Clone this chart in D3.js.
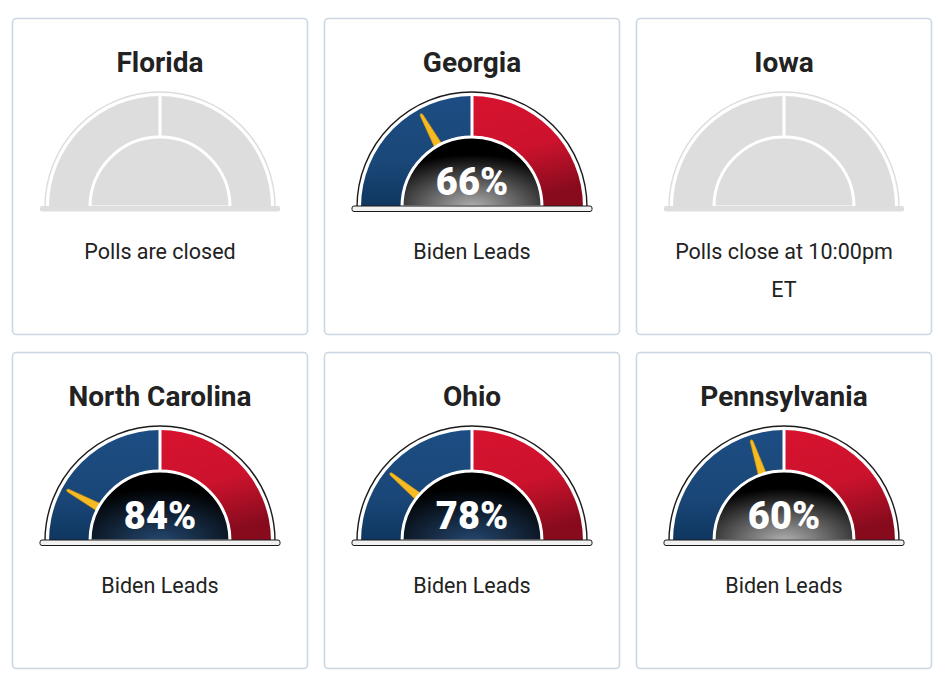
<!DOCTYPE html>
<html>
<head>
<meta charset="utf-8">
<script src="https://cdn.jsdelivr.net/npm/d3@7"></script>
<style>
  body { margin: 0; background: #fff; }
  svg { display: block; font-family: Roboto, "Noto Sans", sans-serif; }
</style>
</head>
<body>
<svg id="chart" width="944" height="686"></svg>
<script>
const states = ['Florida', 'Georgia', 'Iowa', 'North Carolina', 'Ohio', 'Pennsylvania'];
const bidenChance = [null, 66, null, 84, 78, 60]; // null = no forecast shown
const statusText = [
    'Polls are closed',
    'Biden Leads',
    'Polls close at 10:00pm ET',
    'Biden Leads',
    'Biden Leads',
    'Biden Leads'
];

const svg = d3.select('#chart');

const CARD_W = 295;
const CARD_H = 316;
const COL_STEP = 312;
const ROW_STEP = 334;
const CX = 148;        // gauge centre inside a card
const BASE_Y = 189;    // gauge baseline inside a card
const R_OUTER = 115;
const R_BAND_OUT = 111;
const R_BAND_IN = 71;
const R_CENTER = 70;

// percentage -> needle angle (0 = straight up, negative = towards Biden side)
const angle = d3.scaleLinear().domain([0, 100]).range([Math.PI / 2, -Math.PI / 2]);

const defs = svg.append('defs');

const blueGrad = defs.append('linearGradient').attr('id', 'blueGrad')
    .attr('x1', 0).attr('y1', 0).attr('x2', 0).attr('y2', 1);
blueGrad.append('stop').attr('offset', '0%').attr('stop-color', '#1d4d83');
blueGrad.append('stop').attr('offset', '60%').attr('stop-color', '#1a4778');
blueGrad.append('stop').attr('offset', '100%').attr('stop-color', '#0e3660');

const redGrad = defs.append('linearGradient').attr('id', 'redGrad')
    .attr('x1', 0).attr('y1', 0).attr('x2', 0.25).attr('y2', 1);
redGrad.append('stop').attr('offset', '0%').attr('stop-color', '#d7132f');
redGrad.append('stop').attr('offset', '55%').attr('stop-color', '#cc122d');
redGrad.append('stop').attr('offset', '100%').attr('stop-color', '#870b1d');

function glow(id, color) {
    const g = defs.append('radialGradient').attr('id', id)
        .attr('cx', 0.5).attr('cy', 1).attr('r', 0.75).attr('fx', 0.5).attr('fy', 1);
    g.append('stop').attr('offset', '0%').attr('stop-color', color);
    g.append('stop').attr('offset', '100%').attr('stop-color', '#000');
}
glow('glowGrey', '#b0b0b0');
glow('glowBlue', '#24476f');

const arc = d3.arc();
const halfDisc = r => arc({ innerRadius: 0, outerRadius: r, startAngle: -Math.PI / 2, endAngle: Math.PI / 2 });

const cards = svg.selectAll('g.card')
    .data(states.map((s, i) => ({ name: s, value: bidenChance[i], status: statusText[i], i })))
    .join('g')
    .attr('class', 'card')
    .attr('transform', d => `translate(${12 + (d.i % 3) * COL_STEP},${18 + Math.floor(d.i / 3) * ROW_STEP})`);

cards.append('rect')
    .attr('x', 0.5).attr('y', 0.5)
    .attr('width', CARD_W).attr('height', CARD_H)
    .attr('rx', 4)
    .attr('fill', '#fff')
    .attr('stroke', '#cbd7e3').attr('stroke-width', 1.6);

cards.append('text')
    .attr('x', CX).attr('y', 54)
    .attr('text-anchor', 'middle')
    .style('font-size', '28px').style('font-weight', 700)
    .attr('fill', '#222')
    .text(d => d.name);

cards.each(function (d) {
    const active = d.value != null;
    const g = d3.select(this).append('g').attr('transform', `translate(${CX},${BASE_Y})`);

    g.append('path')
        .attr('d', halfDisc(R_OUTER))
        .attr('fill', '#fff')
        .attr('stroke', active ? '#1a1a1a' : '#dcdcdc')
        .attr('stroke-width', 1.4);

    g.append('path')
        .attr('d', arc({ innerRadius: R_BAND_IN, outerRadius: R_BAND_OUT, startAngle: -Math.PI / 2, endAngle: 0 }))
        .attr('fill', active ? 'url(#blueGrad)' : '#dddddd');
    g.append('path')
        .attr('d', arc({ innerRadius: R_BAND_IN, outerRadius: R_BAND_OUT, startAngle: 0, endAngle: Math.PI / 2 }))
        .attr('fill', active ? 'url(#redGrad)' : '#dddddd');

    g.append('line')
        .attr('x1', 0).attr('x2', 0)
        .attr('y1', -R_BAND_IN).attr('y2', -R_BAND_OUT - 1)
        .attr('stroke', '#fff').attr('stroke-width', 3);

    if (active) {
        const deg = angle(d.value) * 180 / Math.PI;
        g.append('path')
            .attr('d', 'M-4.2,-68 L-1.4,-105 Q0,-108 1.4,-105 L4.2,-68 Z')
            .attr('transform', `rotate(${deg})`)
            .attr('fill', '#f6bb22')
            .attr('stroke', '#d9980e').attr('stroke-width', 0.6);
    }

    g.append('path')
        .attr('d', halfDisc(R_CENTER))
        .attr('fill', active ? (d.value >= 75 ? 'url(#glowBlue)' : 'url(#glowGrey)') : '#dddddd')
        .attr('stroke', '#fff').attr('stroke-width', 3);

    if (active) {
        g.append('text')
            .attr('x', 0).attr('y', -12)
            .attr('text-anchor', 'middle')
            .style('font-size', '38px').style('font-weight', 900)
            .attr('fill', '#fff')
            .text(d3.format('d')(d.value) + '%');
    }

    g.append('rect')
        .attr('x', -120).attr('y', -1)
        .attr('width', 240).attr('height', 5.5)
        .attr('rx', 2)
        .attr('fill', active ? '#f1f1f1' : '#dedede')
        .attr('stroke', active ? '#1a1a1a' : 'none')
        .attr('stroke-width', 1);

    // status line(s), wrapped to the card width
    const t = d3.select(this).append('text')
        .attr('text-anchor', 'middle')
        .style('font-size', '21.5px')
        .attr('fill', '#222');
    const words = d.status.split(' ');
    let lines = [], line = [];
    const probe = t.append('tspan');
    words.forEach(w => {
        probe.text([...line, w].join(' '));
        if (line.length && probe.node().getComputedTextLength() > 232) {
            lines.push(line.join(' '));
            line = [w];
        } else {
            line.push(w);
        }
    });
    lines.push(line.join(' '));
    probe.remove();
    lines.forEach((l, k) => {
        t.append('tspan').attr('x', CX).attr('y', 241 + k * 38).text(l);
    });
});
</script>
</body>
</html>
